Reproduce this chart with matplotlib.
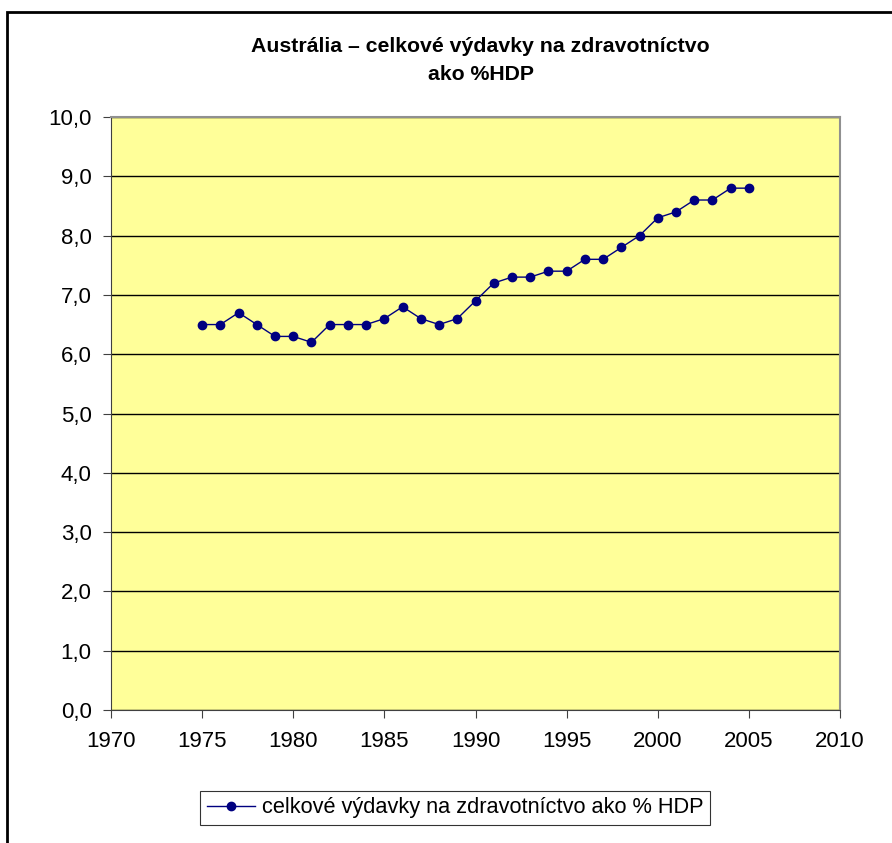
import matplotlib.pyplot as plt
from matplotlib.patches import Rectangle
from matplotlib.ticker import FuncFormatter

plt.rcParams["font.family"] = ["Liberation Sans", "DejaVu Sans"]

years = list(range(1975, 2006))
values = [6.5, 6.5, 6.7, 6.5, 6.3, 6.3, 6.2, 6.5, 6.5, 6.5,
          6.6, 6.8, 6.6, 6.5, 6.6, 6.9, 7.2, 7.3, 7.3, 7.4,
          7.4, 7.6, 7.6, 7.8, 8.0, 8.3, 8.4, 8.6, 8.6, 8.8, 8.8]

title = "Austrália – celkové výdavky na zdravotníctvo\nako %HDP"
series_label = "celkové výdavky na zdravotníctvo ako % HDP"

fig = plt.figure(figsize=(8.92, 8.43), dpi=100)

# outer chart border (left and top visible)
fig.patches.append(Rectangle((7 / 892, -0.1), 1.2, 1 - 12 / 843 + 0.1,
                             transform=fig.transFigure, fill=False,
                             edgecolor="black", linewidth=2))

ax = fig.add_axes([111 / 892, 133 / 843, 729 / 892, 593 / 843])
ax.set_facecolor("#FFFF99")

ax.plot(years, values, color="#000080", linewidth=1, marker="o",
        markersize=6, label=series_label, zorder=3)

ax.set_xlim(1970, 2010)
ax.set_ylim(0, 10)
ax.set_xticks(range(1970, 2011, 5))
ax.set_yticks(range(0, 11))
ax.yaxis.set_major_formatter(FuncFormatter(lambda v, p: f"{v:.1f}".replace(".", ",")))
ax.grid(axis="y", color="black", linewidth=1)
ax.set_axisbelow(True)

for side in ["left", "bottom"]:
    ax.spines[side].set_color("#404040")
for side in ["top", "right"]:
    ax.spines[side].set_color("#909090")
    ax.spines[side].set_linewidth(1.5)

ax.tick_params(direction="out", length=6, labelsize=16, color="#404040")
ax.tick_params(axis="y", pad=8)
ax.tick_params(axis="x", pad=9)

fig.text(0.539, 1 - 37 / 843, title, ha="center", va="top", fontsize=15.3,
         fontweight="bold", linespacing=1.6)

leg = fig.legend(loc="center", bbox_to_anchor=(455 / 892, 1 - 808 / 843),
                 fontsize=15.7, frameon=True, fancybox=False, edgecolor="black",
                 handlelength=2.2, borderpad=0.3, handletextpad=0.3,
                 borderaxespad=0)
leg.get_frame().set_linewidth(0.8)

fig.savefig("out.png", dpi=100)
plt.close(fig)
